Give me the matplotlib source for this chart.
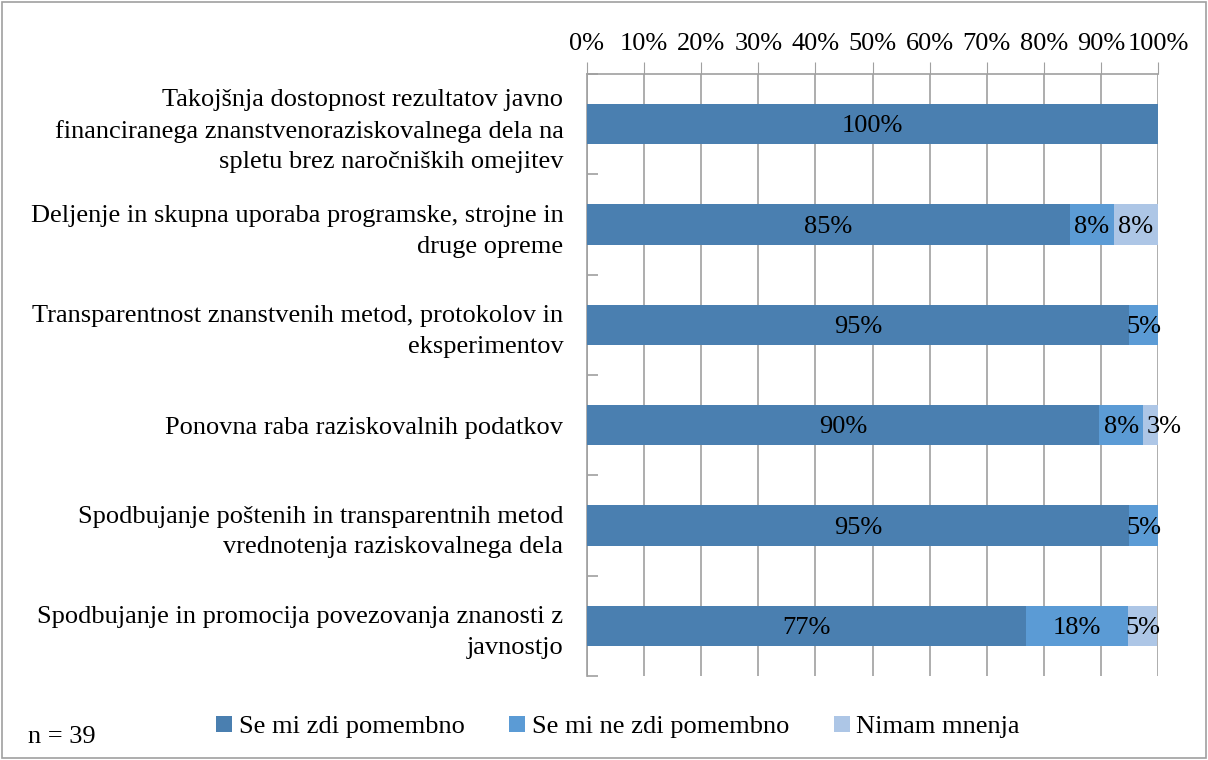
import matplotlib
matplotlib.use("Agg")
import matplotlib.pyplot as plt
from matplotlib.patches import Rectangle
import numpy as np

categories = [
    "Takojšnja dostopnost rezultatov javno\nfinanciranega znanstvenoraziskovalnega dela na\nspletu brez naročniških omejitev",
    "Deljenje in skupna uporaba programske, strojne in\ndruge opreme",
    "Transparentnost znanstvenih metod, protokolov in\neksperimentov",
    "Ponovna raba raziskovalnih podatkov",
    "Spodbujanje poštenih in transparentnih metod\nvrednotenja raziskovalnega dela",
    "Spodbujanje in promocija povezovanja znanosti z\njavnostjo",
]
series_names = ["Se mi zdi pomembno", "Se mi ne zdi pomembno", "Nimam mnenja"]
pomembno = [100.0, 84.6, 94.9, 89.7, 94.9, 76.9]
ni_pomembno = [0.0, 7.7, 5.1, 7.7, 5.1, 17.9]
nimam = [0.0, 7.7, 0.0, 2.6, 0.0, 5.1]
xtick_labels = ["0%", "10%", "20%", "30%", "40%", "50%", "60%", "70%", "80%", "90%", "100%"]
note = "n = 39"

colors = ["#4A7FB0", "#5B9BD5", "#ADC6E6"]
FS = 19

plt.rcParams["font.family"] = ["Liberation Serif", "DejaVu Serif"]
fig = plt.figure(figsize=(12.08, 7.6), dpi=100)
ax = fig.add_axes([587/1208, 1-676/760, (1158-587)/1208, (676-74)/760])

y = np.arange(len(categories))
data = [pomembno, ni_pomembno, nimam]
left = np.zeros(len(categories))
for vals, c, name in zip(data, colors, series_names):
    vals = np.array(vals)
    ax.barh(y, vals, left=left, height=0.4, color=c, label=name, zorder=3)
    for yi, v, l in zip(y, vals, left):
        if v <= 0:
            continue
        txt = f"{round(v):.0f}%"
        if v < 4:
            ax.text(l + 0.6, yi + 0.02, txt, ha="left", va="center", fontsize=FS, zorder=4, clip_on=False)
        else:
            ax.text(l + v/2, yi + 0.02, txt, ha="center", va="center", fontsize=FS, zorder=4)
    left = left + vals

ax.set_xlim(0, 100)
ax.set_ylim(len(categories) - 0.5, -0.5)
ax.xaxis.tick_top()
ax.set_xticks(np.arange(0, 101, 10))
ax.set_xticklabels(xtick_labels, fontsize=FS)
ax.tick_params(axis="x", direction="out", length=9, color="#A0A0A0", pad=5)
ax.grid(axis="x", color="#A0A0A0", linewidth=1.2, zorder=0)
ax.set_yticks(y)
ax.set_yticklabels(categories, fontsize=FS, ha="right")
for lbl in ax.get_yticklabels():
    lbl.set_multialignment("right")
    lbl.set_linespacing(1.5)
ax.tick_params(axis="y", which="major", length=0, pad=17)
ax.set_yticks(np.arange(-0.5, len(categories)), minor=True)
ax.tick_params(axis="y", which="minor", direction="in", length=8, color="#A0A0A0", width=1.2)
for s in ["right", "bottom"]:
    ax.spines[s].set_visible(False)
for s in ["top", "left"]:
    ax.spines[s].set_color("#A0A0A0")
    ax.spines[s].set_linewidth(1.2)

fig.legend(loc="center", bbox_to_anchor=(618/1208, 1-727/760), ncol=3, frameon=False,
           fontsize=FS, handlelength=0.6, handleheight=0.6, handletextpad=0.25,
           columnspacing=1.7)
fig.text(28/1208, 1-737/760, note, fontsize=FS, ha="left", va="center")

fig.patches.append(Rectangle((0.002, 0.002), 0.996, 0.996, transform=fig.transFigure,
                             fill=False, edgecolor="#A0A0A0", linewidth=1.2))

fig.savefig("out.png", dpi=100)
